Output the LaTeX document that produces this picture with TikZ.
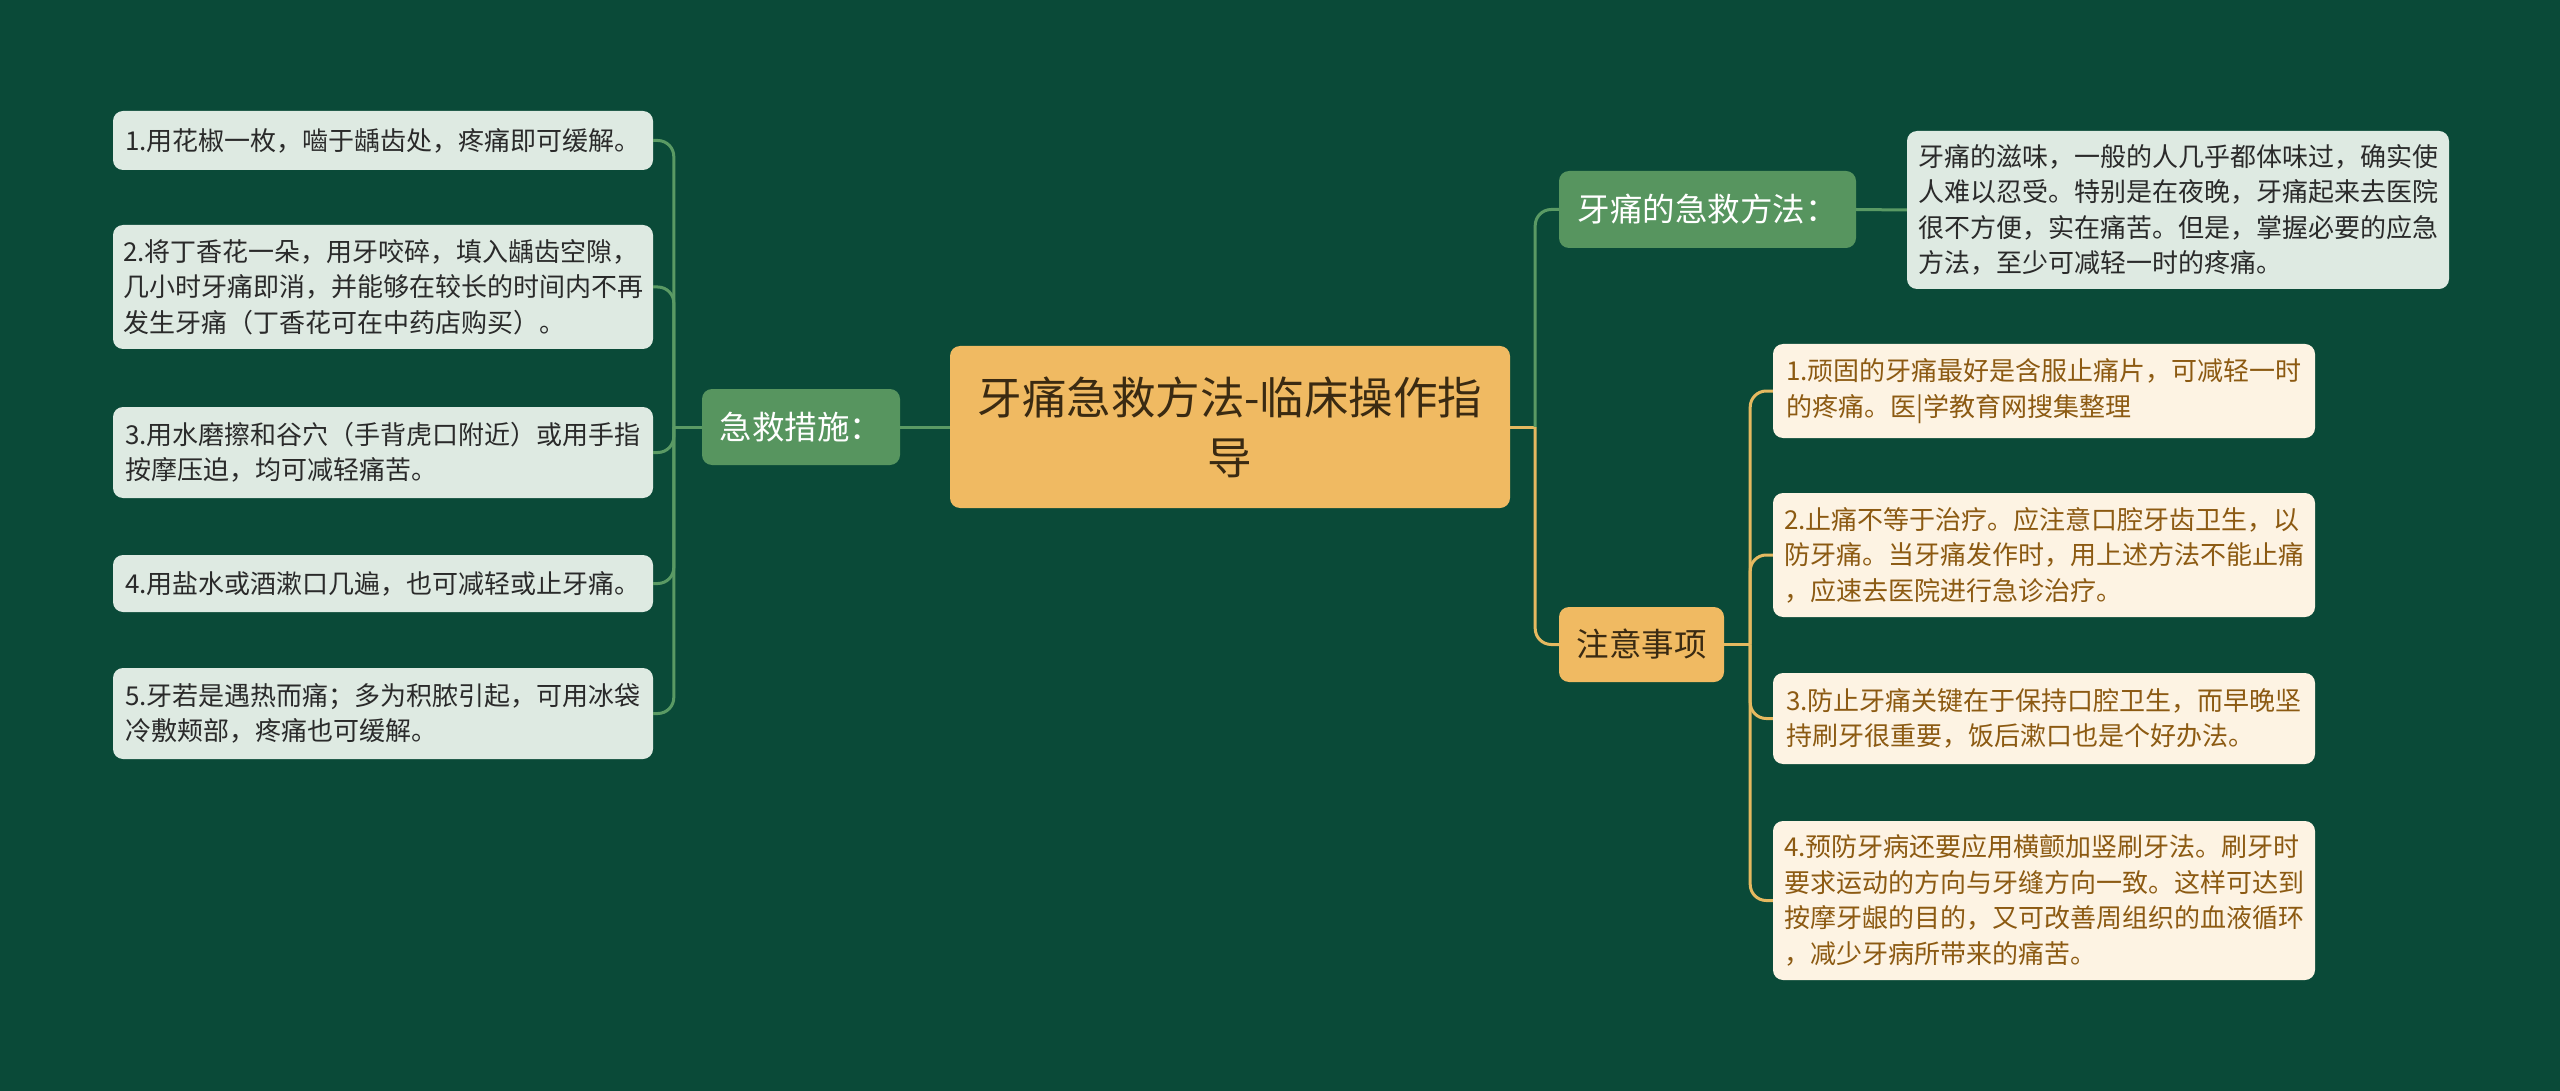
\documentclass[tikz,border=0pt]{standalone}
\usepackage{fontspec}
\setmainfont{Noto Sans CJK SC}
\usetikzlibrary{calc}
\definecolor{bgc}{HTML}{0A4A38}
\definecolor{brc}{HTML}{57955F}
\definecolor{leafc}{HTML}{DEEAE2}
\definecolor{leaft}{HTML}{2A2A2A}
\definecolor{rootc}{HTML}{F0BA62}
\definecolor{roott}{HTML}{3A2A12}
\definecolor{notec}{HTML}{FDF3E3}
\definecolor{notet}{HTML}{8C5A12}
\definecolor{gline}{HTML}{5A9A64}
\definecolor{oline}{HTML}{E5B960}
\begin{document}
\begin{tikzpicture}[x=1pt,y=-1pt,
  box/.style={draw=none, rounded corners=10pt, inner sep=0pt},
  leaf/.style={box, fill=leafc, text=leaft, align=left, font=\fontsize{26}{35.5}\selectfont, minimum width=540pt},
  note/.style={box, fill=notec, text=notet, align=left, font=\fontsize{26}{35.5}\selectfont, minimum width=542pt},
  gbranch/.style={box, fill=brc, text=white, font=\fontsize{32.5}{40}\selectfont},
  obranch/.style={box, fill=rootc, text=roott, font=\fontsize{32.5}{40}\selectfont},
  rootbox/.style={box, fill=rootc, text=roott, align=center, font=\fontsize{44.5}{60}\selectfont, minimum width=560pt, minimum height=162pt},
  gconn/.style={draw=gline, line width=3pt, rounded corners=16pt},
  oconn/.style={draw=oline, line width=3pt, rounded corners=16pt}
]
\fill[bgc] (0,0) rectangle (2560,1091);
\useasboundingbox (0,0) rectangle (2560,1091);

% root and branches
\node[rootbox] (root) at (1230,427) {牙痛急救方法-临床操作指\\导};
\node[gbranch, minimum width=198pt, minimum height=76pt] (jj) at (801,427) {急救措施：};
\node[gbranch, minimum width=297pt, minimum height=77pt] (b1) at (1707.5,209.5) {牙痛的急救方法：};
\node[obranch, minimum width=165pt, minimum height=75pt] (b2) at (1641.5,644.5) {注意事项};

% left leaves
\node[leaf, minimum height=59pt] (l1) at (383,140.5) {1.用花椒一枚，嚙于龋齿处，疼痛即可缓解。};
\node[leaf, minimum height=124pt] (l2) at (383,287) {2.将丁香花一朵，用牙咬碎，填入龋齿空隙，\\几小时牙痛即消，并能够在较长的时间内不再\\发生牙痛（丁香花可在中药店购买）。};
\node[leaf, minimum height=91pt] (l3) at (383,452.5) {3.用水磨擦和谷穴（手背虎口附近）或用手指\\按摩压迫，均可减轻痛苦。};
\node[leaf, minimum height=57pt] (l4) at (383,583.5) {4.用盐水或酒漱口几遍，也可减轻或止牙痛。};
\node[leaf, minimum height=91pt] (l5) at (383,713.5) {5.牙若是遇热而痛；多为积脓引起，可用冰袋\\冷敷颊部，疼痛也可缓解。};

% description
\node[leaf, minimum width=542pt, minimum height=158pt] (desc) at (2178,210) {牙痛的滋味，一般的人几乎都体味过，确实使\\人难以忍受。特别是在夜晚，牙痛起来去医院\\很不方便，实在痛苦。但是，掌握必要的应急\\方法，至少可减轻一时的疼痛。};

% notes
\node[note, minimum height=94pt] (n1) at (2044,391) {1.顽固的牙痛最好是含服止痛片，可减轻一时\\的疼痛。医|学教育网搜集整理};
\node[note, minimum height=124pt] (n2) at (2044,555) {2.止痛不等于治疗。应注意口腔牙齿卫生，以\\防牙痛。当牙痛发作时，用上述方法不能止痛\\，应速去医院进行急诊治疗。};
\node[note, minimum height=91pt] (n3) at (2044,718.5) {3.防止牙痛关键在于保持口腔卫生，而早晚坚\\持刷牙很重要，饭后漱口也是个好办法。};
\node[note, minimum height=159pt] (n4) at (2044,900.5) {4.预防牙病还要应用横颤加竖刷牙法。刷牙时\\要求运动的方向与牙缝方向一致。这样可达到\\按摩牙龈的目的，又可改善周组织的血液循环\\，减少牙病所带来的痛苦。};

% junction coordinates
\coordinate (lt) at ($(jj.west)+(-28,0)$);
\coordinate (rt) at ($(root.east)+(25,0)$);
\coordinate (nt) at ($(b2.east)+(26,0)$);

% connectors
\draw[gconn] (root.west) -- (jj.east);
\draw[gconn] (jj.west) -- (lt);
\foreach \l in {l1,l2,l3,l4,l5} \draw[gconn] (lt) |- (\l.east);
\draw[oconn] (root.east) -- (rt);
\draw[gconn] (rt) |- (b1.west);
\draw[oconn] (rt) |- (b2.west);
\draw[gconn] (b1.east) -- (desc.west);
\draw[oconn] (b2.east) -- (nt);
\foreach \n in {n1,n2,n3,n4} \draw[oconn] (nt) |- (\n.west);
\end{tikzpicture}
\end{document}
